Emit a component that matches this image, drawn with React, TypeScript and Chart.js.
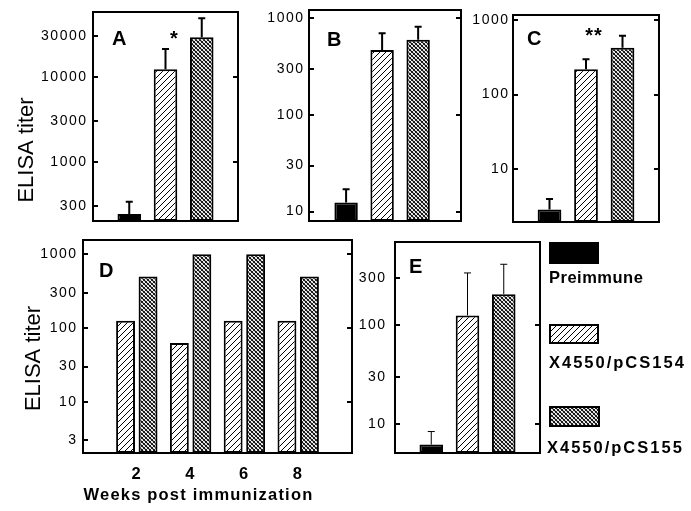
import React, { useEffect, useRef } from 'react';
import { Chart, registerables } from 'chart.js';

Chart.register(...registerables);

const W = 691;
const H = 511;
const FONT = "'Liberation Sans', Arial, Helvetica, sans-serif";

// ---------- data ----------
const groups = ['Preimmune', 'X4550/pCS154', 'X4550/pCS155'];
const groupPos = [1, 2, 3];

const titerA = [245, 12300, 29300];
const upperA = [340, 21400, 49000];
const ticksA = [300, 1000, 3000, 10000, 30000];

const titerB = [12.4, 470, 600];
const upperB = [17, 700, 820];
const ticksB = [10, 30, 100, 300, 1000];

const titerC = [2.9, 218, 425];
const upperC = [4, 297, 615];
const ticksC = [10, 100, 1000];

const weeks = [2, 4, 6, 8];
const titerD154 = [125, 62.5, 125, 125];
const titerD155 = [500, 1000, 1000, 500];
const ticksD = [3, 10, 30, 100, 300, 1000];

const titerE = [6.2, 125, 205];
const upperE = [8.4, 336, 411];
const ticksE = [10, 30, 100, 300];

// ---------- patterns ----------
function makeHatch(): CanvasPattern {
  const s = 6;
  const c = document.createElement('canvas');
  c.width = s; c.height = s;
  const g = c.getContext('2d')!;
  g.fillStyle = '#fff'; g.fillRect(0, 0, s, s);
  g.strokeStyle = '#000'; g.lineWidth = 1;
  g.beginPath();
  for (const o of [-s, 0, s]) { g.moveTo(o, s); g.lineTo(o + s, 0); }
  g.stroke();
  return g.createPattern(c, 'repeat')!;
}
function makeCross(): CanvasPattern {
  const s = 4;
  const c = document.createElement('canvas');
  c.width = s; c.height = s;
  const g = c.getContext('2d')!;
  g.fillStyle = '#fff'; g.fillRect(0, 0, s, s);
  g.strokeStyle = '#000';
  g.lineWidth = 1.1;
  g.beginPath();
  for (const o of [-s, 0, s]) { g.moveTo(o, 0); g.lineTo(o + s, s); }
  g.stroke();
  g.lineWidth = 0.8;
  g.beginPath();
  for (const o of [-s, 0, s]) { g.moveTo(o, s); g.lineTo(o + s, 0); }
  g.stroke();
  return g.createPattern(c, 'repeat')!;
}

// ---------- drawing helpers ----------
function drawText(ctx: any, it: any) {
  ctx.save();
  ctx.font = it.font;
  ctx.letterSpacing = (it.spacing || 0) + 'px';
  ctx.fillStyle = '#000';
  ctx.textAlign = it.align || 'left';
  ctx.textBaseline = 'alphabetic';
  ctx.translate(it.x, it.y);
  if (it.rotate) ctx.rotate(-Math.PI / 2);
  ctx.fillText(it.text, 0, 0);
  ctx.restore();
}

const panelPlugin = {
  id: 'panel',
  beforeDraw(chart: any) {
    chart.ctx.letterSpacing = '1.5px';
  },
  afterDraw(chart: any, _args: any, opts: any) {
    const ctx = chart.ctx;
    const a = chart.chartArea;
    const ys = chart.scales.y;
    ctx.save();
    ctx.letterSpacing = '0px';
    ctx.strokeStyle = '#000';
    ctx.fillStyle = '#000';
    // error bars
    if (opts.upper) {
      const meta = chart.getDatasetMeta(0);
      ctx.lineWidth = opts.errWidth;
      meta.data.forEach((bar: any, i: number) => {
        const top = ys.getPixelForValue(opts.upper[i]);
        ctx.beginPath();
        ctx.moveTo(bar.x, bar.y);
        ctx.lineTo(bar.x, top);
        ctx.moveTo(bar.x - 3.5, top);
        ctx.lineTo(bar.x + 3.5, top);
        ctx.stroke();
      });
    }
    // frame
    ctx.lineWidth = 2;
    ctx.strokeRect(a.left, a.top, a.right - a.left, a.bottom - a.top);
    // inward ticks
    ys.ticks.forEach((t: any) => {
      const py = Math.round(ys.getPixelForValue(t.value));
      ctx.beginPath();
      ctx.moveTo(a.left, py);
      ctx.lineTo(a.left + 5, py);
      const lg = Math.log10(t.value);
      if (Math.abs(lg - Math.round(lg)) < 1e-9) {
        ctx.moveTo(a.right - 5, py);
        ctx.lineTo(a.right, py);
      }
      ctx.stroke();
    });
    // legend
    if (opts.legend) {
      opts.legend.forEach((it: any) => {
        const [x, y, w, h] = it.rect;
        ctx.fillStyle = it.fill;
        ctx.fillRect(x, y, w, h);
        ctx.lineWidth = 2;
        ctx.strokeRect(x + 1, y + 1, w - 2, h - 2);
        drawText(ctx, { text: it.label, x: it.tx, y: it.ty, font: 'bold 16.5px ' + FONT, spacing: it.spacing });
      });
    }
    (opts.texts || []).forEach((it: any) => drawText(ctx, it));
    ctx.restore();
  },
};

function makeConfig(p: any): any {
  const showX = !!p.showX;
  return {
    type: 'bar',
    data: { datasets: p.datasets },
    options: {
      responsive: false,
      animation: false,
      devicePixelRatio: 1,
      events: [],
      layout: {
        autoPadding: false,
        padding: { left: 0, top: p.box.t, right: W - p.box.r, bottom: showX ? 0 : H - p.box.b },
      },
      plugins: {
        legend: { display: false },
        tooltip: { enabled: false },
        title: { display: false },
        panel: p.deco,
      },
      scales: {
        x: {
          type: 'linear',
          min: p.xMin,
          max: p.xMax,
          offset: false,
          display: showX,
          grid: { display: false, drawTicks: false },
          border: { display: false },
          ticks: {
            color: '#000',
            padding: 12,
            autoSkip: false,
            maxRotation: 0,
            font: { family: FONT, size: 16.5, weight: 'bold' },
            callback: (v: any) => String(v),
          },
          afterBuildTicks: (s: any) => { s.ticks = p.xTicks.map((v: number) => ({ value: v })); },
          afterFit: (s: any) => {
            s.height = showX ? H - p.box.b : 0;
            s.paddingLeft = 0; s.paddingRight = 0;
          },
        },
        y: {
          type: 'logarithmic',
          min: p.yMin,
          max: p.yMax,
          beginAtZero: false,
          grid: { display: false, drawTicks: false },
          border: { display: false },
          ticks: {
            color: '#000',
            padding: p.tickPad,
            autoSkip: false,
            font: { family: FONT, size: 14 },
            callback: (v: any) => String(v),
          },
          afterBuildTicks: (s: any) => { s.ticks = p.yTicks.map((v: number) => ({ value: v })); },
          afterFit: (s: any) => {
            s.width = p.box.l;
            s.paddingTop = 0; s.paddingBottom = 0;
          },
        },
      },
    },
    plugins: [panelPlugin],
  };
}

function single(values: number[], fills: any[]) {
  return [{
    data: groupPos.map((x, i) => ({ x, y: values[i] })),
    backgroundColor: fills,
    borderColor: '#000',
    borderWidth: 2,
    borderSkipped: false,
    categoryPercentage: 1,
    barPercentage: 0.65,
  }];
}

function buildPanels(fills: any[]) {
  const letter = (t: string, x: number, y: number) => ({ text: t, x, y, font: 'bold 20px ' + FONT });
  const elisa = (x: number, y: number) => ({ text: 'ELISA titer', x, y, font: '22px ' + FONT, align: 'center', rotate: true });
  return [
    {
      box: { l: 93, t: 12, r: 238, b: 221 }, yMin: 202, yMax: 58200, yTicks: ticksA,
      xMin: 0, xMax: 4, xTicks: groupPos, tickPad: 5.5,
      datasets: single(titerA, fills),
      deco: {
        upper: upperA, errWidth: 2,
        texts: [letter('A', 112, 45), { text: '*', x: 174, y: 45, font: 'bold 20px ' + FONT, align: 'center' }, elisa(33, 150)],
      },
    },
    {
      box: { l: 309, t: 10, r: 461, b: 221 }, yMin: 8.0, yMax: 1220, yTicks: ticksB,
      xMin: -0.03, xMax: 4.19, xTicks: groupPos, tickPad: 4.5,
      datasets: single(titerB, fills),
      deco: { upper: upperB, errWidth: 2, texts: [letter('B', 327, 46)] },
    },
    {
      box: { l: 513, t: 15, r: 659, b: 222 }, yMin: 1.97, yMax: 1164, yTicks: ticksC,
      xMin: 0, xMax: 4, xTicks: groupPos, tickPad: 3.5,
      datasets: single(titerC, fills),
      deco: {
        upper: upperC, errWidth: 2,
        texts: [letter('C', 527, 45), { text: '**', x: 594, y: 42, font: 'bold 20px ' + FONT, align: 'center', spacing: 1 }],
      },
    },
    {
      box: { l: 83, t: 240, r: 352, b: 453 }, yMin: 2.01, yMax: 1563, yTicks: ticksD,
      xMin: 0, xMax: 10, xTicks: weeks, tickPad: 5.5, showX: true,
      datasets: [
        {
          label: groups[1],
          data: weeks.map((x, i) => ({ x, y: titerD154[i] })),
          backgroundColor: fills[1], borderColor: '#000', borderWidth: 2, borderSkipped: false,
          categoryPercentage: 0.836, barPercentage: 0.84,
        },
        {
          label: groups[2],
          data: weeks.map((x, i) => ({ x, y: titerD155[i] })),
          backgroundColor: fills[2], borderColor: '#000', borderWidth: 2, borderSkipped: false,
          categoryPercentage: 0.836, barPercentage: 0.84,
        },
      ],
      deco: {
        texts: [
          letter('D', 99, 277),
          elisa(40, 358.5),
          { text: 'Weeks post immunization', x: 198.5, y: 500, font: 'bold 16.5px ' + FONT, align: 'center', spacing: 1.2 },
        ],
      },
    },
    {
      box: { l: 395, t: 242, r: 540, b: 453 }, yMin: 5.1, yMax: 690, yTicks: ticksE,
      xMin: 0, xMax: 4, xTicks: groupPos, tickPad: 8.5,
      datasets: single(titerE, fills),
      deco: {
        upper: upperE, errWidth: 1,
        texts: [letter('E', 409, 273)],
        legend: [
          { fill: fills[0], rect: [549, 242, 50, 22], label: groups[0], tx: 549, ty: 283, spacing: 0.5 },
          { fill: fills[1], rect: [549, 324, 50, 20], label: groups[1], tx: 549, ty: 368, spacing: 2 },
          { fill: fills[2], rect: [549, 406, 51, 21], label: groups[2], tx: 547, ty: 453, spacing: 2 },
        ],
      },
    },
  ];
}

export default function App() {
  const refs = useRef<(HTMLCanvasElement | null)[]>([]);
  useEffect(() => {
    const fills = ['#000', makeHatch(), makeCross()];
    const panels = buildPanels(fills);
    const charts = panels.map((p, i) => new Chart(refs.current[i] as HTMLCanvasElement, makeConfig(p)));
    return () => charts.forEach((c) => c.destroy());
  }, []);
  return (
    <div style={{ position: 'absolute', left: 0, top: 0, width: W, height: H, background: '#fff', overflow: 'hidden' }}>
      {[0, 1, 2, 3, 4].map((i) => (
        <canvas
          key={i}
          ref={(el) => { refs.current[i] = el; }}
          width={W}
          height={H}
          style={{ position: 'absolute', left: 0, top: 0 }}
        />
      ))}
    </div>
  );
}
